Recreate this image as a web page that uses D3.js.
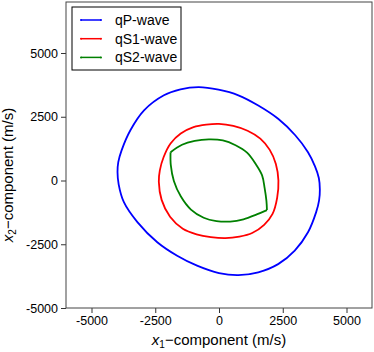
<!DOCTYPE html>
<html>
<head>
<meta charset="utf-8">
<script src="https://cdn.jsdelivr.net/npm/d3@7"></script>
<style>
  body { margin: 0; background: #fff; }
  svg { font-family: "Liberation Sans", Arial, sans-serif; }
</style>
</head>
<body>
<div id="chart"></div>
<script>
// Wave surfaces, points (m/s)
var qpX = [3955, 3915, 3765, 3490, 2990, 2320, 1540, 760, -20, -790, -1510, -2160, -2940, -3475, -3820, -3950, -3980,
           -3935, -3730, -3200, -2420, -1640, -860, 0, 760, 1540, 2320, 2970, 3490, 3810, 3925];
var qpY = [-350, 100, 555, 1110, 1775, 2420, 2940, 3340, 3560, 3660, 3575, 3340, 2750, 1970, 1180, 720, 330,
           -150, -850, -1630, -2420, -2950, -3340, -3630, -3710, -3600, -3280, -2750, -2030, -1240, -780];

var qs1X = [2330, 2230, 1990, 1620, 1120, 560, 0, -500, -1000, -1500, -1900, -2170, -2320, -2360,
            -2250, -1920, -1420, -880, -320, 250, 800, 1300, 1770, 2100, 2280];
var qs1Y = [0, 650, 1200, 1640, 1950, 2140, 2220, 2190, 2090, 1840, 1450, 920, 400, -50,
            -760, -1420, -1890, -2110, -2220, -2260, -2200, -2060, -1740, -1310, -680];

// qS2 has two cusps, so it is kept as two arcs
var qs2UpperX = [-1900, -1450, -950, -400, 150, 650, 1100, 1450, 1690, 1790, 1860, 1880];
var qs2UpperY = [1110, 1400, 1550, 1610, 1570, 1380, 1090, 630, 200, -300, -800, -1160];
var qs2LowerX = [1880, 1480, 960, 440, -100, -600, -1100, -1500, -1770, -1890, -1900];
var qs2LowerY = [-1160, -1330, -1520, -1610, -1590, -1460, -1140, -620, -20, 600, 1110];

var xTicks = [-5000, -2500, 0, 2500, 5000];
var yTicks = [-5000, -2500, 0, 2500, 5000];
var seriesNames = ["qP-wave", "qS1-wave", "qS2-wave"];
var seriesColors = ["#0000ff", "#ff0000", "#008000"];

var margin = { top: 2, right: 2, bottom: 44, left: 66 },
    width = 374 - margin.left - margin.right,
    height = 352 - margin.top - margin.bottom;

var svg = d3.select("#chart").append("svg")
    .attr("width", 374)
    .attr("height", 352);

var g = svg.append("g")
    .attr("transform", "translate(" + margin.left + "," + margin.top + ")");

var x = d3.scaleLinear().domain([-6000, 6000]).range([0, width]);
var y = d3.scaleLinear().domain([-5000, 7000]).range([height, 0]);

function zip(xs, ys) {
    return xs.map(function(v, i) { return [v, ys[i]]; });
}

var closedLine = d3.line()
    .x(function(d) { return x(d[0]); })
    .y(function(d) { return y(d[1]); })
    .curve(d3.curveCatmullRomClosed);

var openLine = d3.line()
    .x(function(d) { return x(d[0]); })
    .y(function(d) { return y(d[1]); })
    .curve(d3.curveCatmullRom);

g.append("path").attr("d", closedLine(zip(qpX, qpY)))
    .attr("fill", "none").attr("stroke", seriesColors[0]).attr("stroke-width", 1.8);
g.append("path").attr("d", closedLine(zip(qs1X, qs1Y)))
    .attr("fill", "none").attr("stroke", seriesColors[1]).attr("stroke-width", 1.8);
g.append("path").attr("d", openLine(zip(qs2UpperX, qs2UpperY)))
    .attr("fill", "none").attr("stroke", seriesColors[2]).attr("stroke-width", 1.8);
g.append("path").attr("d", openLine(zip(qs2LowerX, qs2LowerY)))
    .attr("fill", "none").attr("stroke", seriesColors[2]).attr("stroke-width", 1.8);

// Axes
var xAxis = g.append("g")
    .attr("transform", "translate(0," + height + ")")
    .call(d3.axisBottom(x).tickValues(xTicks).tickSize(5).tickPadding(3)
        .tickFormat(function(d) { return String(d); }));
var yAxis = g.append("g")
    .call(d3.axisLeft(y).tickValues(yTicks).tickSize(5).tickPadding(3)
        .tickFormat(function(d) { return String(d); }));

[xAxis, yAxis].forEach(function(a) {
    a.select(".domain").remove();
    a.selectAll("line").attr("stroke", "#333");
    a.selectAll("text").attr("fill", "#000").style("font-size", "12.5px")
        .style("font-family", "'Liberation Sans', Arial, sans-serif");
});

// Frame
g.append("rect")
    .attr("width", width).attr("height", height)
    .attr("fill", "none").attr("stroke", "#444").attr("stroke-width", 1);

// Axis titles
var xt = svg.append("text")
    .attr("x", margin.left + width / 2)
    .attr("y", 345)
    .attr("text-anchor", "middle")
    .style("font-size", "15px");
xt.append("tspan").style("font-style", "italic").text("x");
xt.append("tspan").attr("dy", 3).style("font-size", "10px").text("1");
xt.append("tspan").attr("dy", -3).text("\u2212component (m/s)");

var yt = svg.append("text")
    .attr("transform", "translate(13,175) rotate(-90)")
    .attr("text-anchor", "middle")
    .style("font-size", "15px");
yt.append("tspan").style("font-style", "italic").text("x");
yt.append("tspan").attr("dy", 3).style("font-size", "10px").text("2");
yt.append("tspan").attr("dy", -3).text("\u2212component (m/s)");

// Legend
var legend = svg.append("g").attr("transform", "translate(72,7)");
legend.append("rect")
    .attr("width", 109).attr("height", 63)
    .attr("fill", "#fff").attr("stroke", "#000").attr("stroke-width", 1);
seriesNames.forEach(function(name, i) {
    var row = legend.append("g").attr("transform", "translate(0," + (13 + i * 18.7) + ")");
    row.append("line")
        .attr("x1", 9).attr("x2", 29)
        .attr("stroke", seriesColors[i]).attr("stroke-width", 1.5);
    row.append("circle").attr("cx", 9).attr("r", 1).attr("fill", seriesColors[i]);
    row.append("circle").attr("cx", 29).attr("r", 1).attr("fill", seriesColors[i]);
    row.append("text")
        .attr("x", 43).attr("dy", "0.35em")
        .style("font-size", "14px")
        .text(name);
});
</script>
</body>
</html>
